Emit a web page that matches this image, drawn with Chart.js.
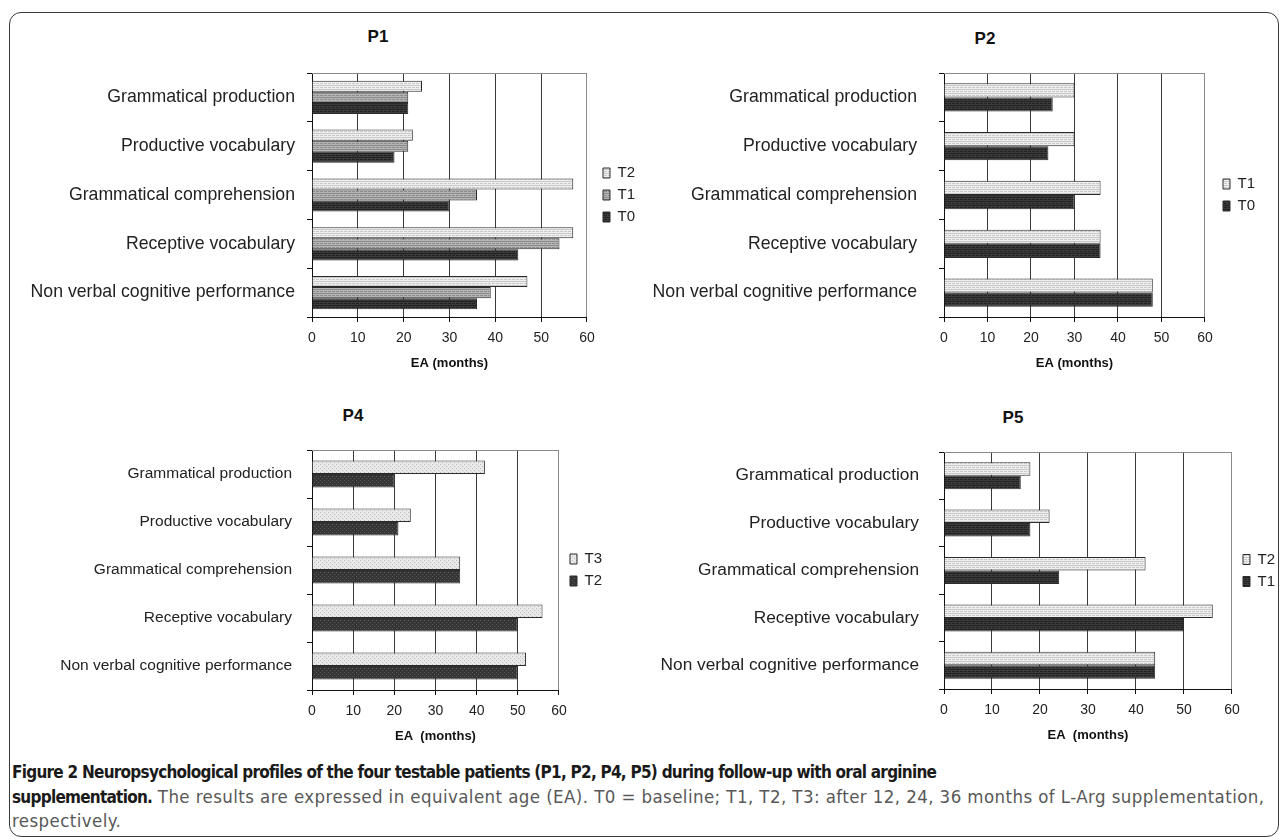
<!DOCTYPE html>
<html>
<head>
<meta charset="utf-8">
<script src="https://cdn.jsdelivr.net/npm/chart.js@4.4.1/dist/chart.umd.min.js"></script>
<style>
  html, body { margin: 0; padding: 0; background: #fff; overflow: hidden; }
  body { width: 1282px; height: 840px; position: relative; font-family: 'Liberation Sans', Arial, sans-serif; }
  .frame { position: absolute; left: 9px; top: 12px; width: 1268px; height: 823px; border: 1.5px solid #3a3a3a; border-radius: 12px; }
  canvas { position: absolute; }
  .ptitle { position: absolute; font-weight: bold; font-size: 17px; color: #111; transform: translate(-50%, -50%); }
  .caption { position: absolute; left: 12px; top: 760px; width: 1275px; white-space: nowrap; font-family: 'DejaVu Sans Condensed', 'Liberation Sans Narrow', sans-serif; font-size: 18.5px; line-height: 24.5px; color: #585858; letter-spacing: 0.42px; }
  .caption b { color: #1a1a1a; font-size: 17px; letter-spacing: -0.75px; }
</style>
</head>
<body>
<div class="frame"></div>

<div class="ptitle" style="left:378px; top:37px;">P1</div>
<div class="ptitle" style="left:985px; top:39px;">P2</div>
<div class="ptitle" style="left:353px; top:416px;">P4</div>
<div class="ptitle" style="left:1013px; top:418px;">P5</div>

<canvas id="p1" width="660" height="351" style="left:0px; top:20px;"></canvas>
<canvas id="p2" width="642" height="351" style="left:640px; top:20px;"></canvas>
<canvas id="p4" width="640" height="344" style="left:0px; top:400px;"></canvas>
<canvas id="p5" width="660" height="343" style="left:640px; top:400px;"></canvas>

<div class="caption"><b>Figure 2 Neuropsychological profiles of the four testable patients (P1, P2, P4, P5) during follow-up with oral arginine<br>supplementation.</b> The results are expressed in equivalent age (EA). T0 = baseline; T1, T2, T3: after 12, 24, 36 months of L-Arg supplementation,<br>respectively.</div>

<script>
// data (EA in months)
const categories = ['Grammatical production', 'Productive vocabulary', 'Grammatical comprehension', 'Receptive vocabulary', 'Non verbal cognitive performance'];
const xTicks = [0, 10, 20, 30, 40, 50, 60];

const p1Series = ['T2', 'T1', 'T0'];
const p1T2 = [24, 22, 57, 57, 47];
const p1T1 = [21, 21, 36, 54, 39];
const p1T0 = [21, 18, 30, 45, 36];

const p2Series = ['T1', 'T0'];
const p2T1 = [30, 30, 36, 36, 48];
const p2T0 = [25, 24, 30, 36, 48];

const p4Series = ['T3', 'T2'];
const p4T3 = [42, 24, 36, 56, 52];
const p4T2 = [20, 21, 36, 50, 50];

const p5Series = ['T2', 'T1'];
const p5T2 = [18, 22, 42, 56, 44];
const p5T1 = [16, 18, 24, 50, 44];

const fontFamily = "'Liberation Sans', Arial, sans-serif";

// little tiles to imitate the hatched excel fills
function makeFill(bg, fg, kind) {
    const c = document.createElement('canvas');
    c.width = 4; c.height = 4;
    const g = c.getContext('2d');
    g.fillStyle = bg;
    g.fillRect(0, 0, 4, 4);
    g.fillStyle = fg;
    if (kind === 'lines') {
        g.fillRect(0, 1, 4, 1);
        g.fillRect(0, 3, 3, 1);
    } else {
        g.fillRect(0, 0, 1, 1);
        g.fillRect(2, 2, 1, 1);
    }
    return g.createPattern(c, 'repeat');
}

const lightLines = makeFill('#efefef', '#c9c9c9', 'lines');
const midLines = makeFill('#b4b4b4', '#8c8c8c', 'lines');
const darkLines = makeFill('#3c3c3c', '#222222', 'lines');
const lightDots = makeFill('#e9e9e9', '#b8b8b8', 'dots');
const darkDots = makeFill('#353535', '#5a5a5a', 'dots');

const topBorder = {
    id: 'topBorder',
    afterDraw(chart) {
        const a = chart.chartArea;
        const ctx = chart.ctx;
        ctx.save();
        ctx.strokeStyle = '#8a8a8a';
        ctx.lineWidth = 1;
        ctx.beginPath();
        ctx.moveTo(a.left, a.top + 0.5);
        ctx.lineTo(a.right, a.top + 0.5);
        ctx.stroke();
        ctx.restore();
    }
};

function drawPanel(id, names, values, fills, o) {
    const canvas = document.getElementById(id);
    return new Chart(canvas, {
        type: 'bar',
        data: {
            labels: categories,
            datasets: names.map((n, i) => ({
                label: n,
                data: values[i],
                backgroundColor: fills[i],
                borderColor: '#2b2b2b',
                borderWidth: 1,
                barPercentage: 1,
                categoryPercentage: o.catPct
            }))
        },
        options: {
            indexAxis: 'y',
            responsive: false,
            animation: false,
            layout: { padding: { top: o.padTop, right: o.padRight, left: 0, bottom: 0 } },
            plugins: {
                legend: {
                    position: 'right',
                    fullSize: false,
                    labels: { boxWidth: 7, boxHeight: 10, padding: 7, color: '#222', font: { size: 15, family: fontFamily } }
                },
                tooltip: { enabled: false }
            },
            scales: {
                x: {
                    min: 0,
                    max: 60,
                    afterBuildTicks: s => { s.ticks = xTicks.map(v => ({ value: v })); },
                    afterFit: s => { s.height = 54; },
                    grid: {
                        color: c => (c.tick && c.tick.value === 60) ? '#8a8a8a' : '#3a3a3a',
                        tickLength: 5,
                        tickColor: '#111'
                    },
                    border: { color: '#111', width: 1 },
                    ticks: { padding: 8, color: '#222', font: { size: 14, family: fontFamily } },
                    title: {
                        display: true,
                        text: o.xTitle,
                        color: '#111',
                        font: { size: 13, weight: 'bold', family: fontFamily },
                        padding: { top: 4, bottom: 0 }
                    }
                },
                y: {
                    afterFit: s => { s.width = o.yWidth; },
                    grid: { drawOnChartArea: false, tickLength: 5, tickColor: '#111' },
                    border: { color: '#111', width: 1 },
                    ticks: { padding: o.tickPad, color: '#222', font: { size: o.labelSize, family: fontFamily } }
                },
                gap: {
                    axis: 'y',
                    type: 'linear',
                    position: 'right',
                    grid: { display: false },
                    border: { display: false },
                    ticks: { display: false },
                    afterFit: s => { s.width = o.gap; }
                }
            }
        },
        plugins: [topBorder]
    });
}

drawPanel('p1', p1Series, [p1T2, p1T1, p1T0], [lightLines, midLines, darkLines],
    { catPct: 0.68, padTop: 53, padRight: 15, yWidth: 312, tickPad: 12, labelSize: 17.7, gap: 9, xTitle: 'EA (months)' });

drawPanel('p2', p2Series, [p2T1, p2T0], [lightLines, darkLines],
    { catPct: 0.58, padTop: 53, padRight: 17, yWidth: 304, tickPad: 22, labelSize: 17.7, gap: 11, xTitle: 'EA (months)' });

drawPanel('p4', p4Series, [p4T3, p4T2], [lightDots, darkDots],
    { catPct: 0.56, padTop: 50, padRight: 28, yWidth: 312, tickPad: 15, labelSize: 15.5, gap: 4, xTitle: 'EA  (months)' });

drawPanel('p5', p5Series, [p5T2, p5T1], [lightLines, darkLines],
    { catPct: 0.57, padTop: 52, padRight: 15, yWidth: 304, tickPad: 20, labelSize: 17.3, gap: 4, xTitle: 'EA  (months)' });
</script>
</body>
</html>
